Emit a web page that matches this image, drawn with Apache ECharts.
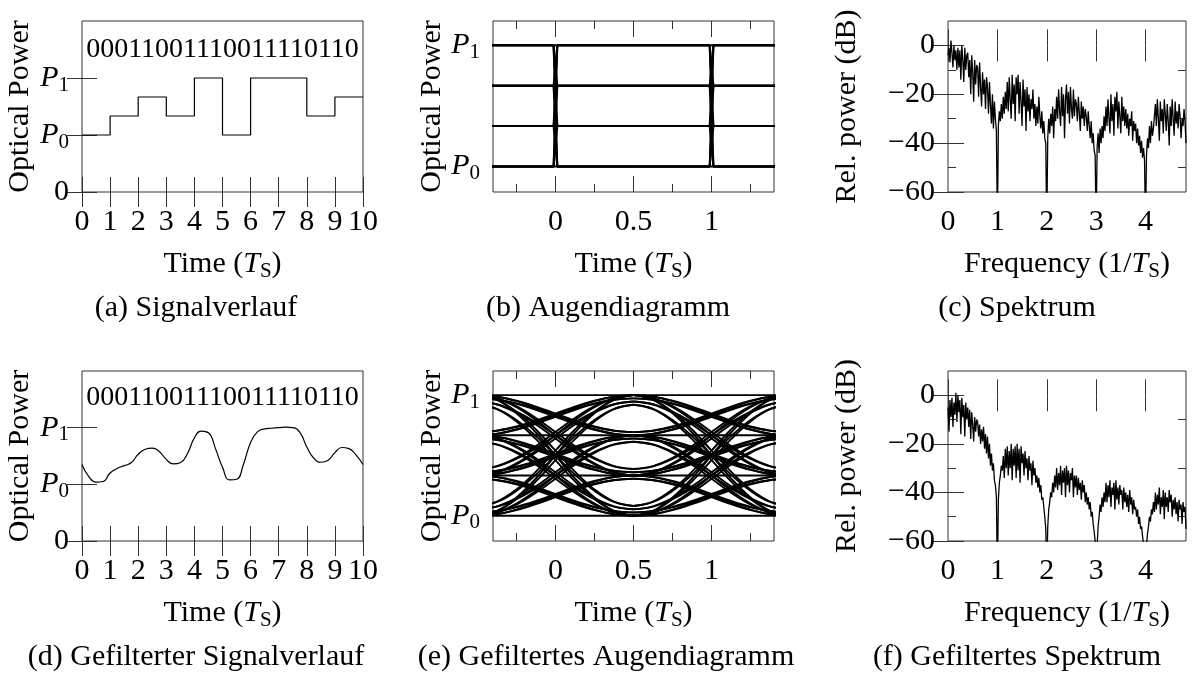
<!DOCTYPE html>
<html><head><meta charset="utf-8">
<script src="https://cdn.jsdelivr.net/npm/echarts@6/dist/echarts.min.js"></script>
<style>html,body{margin:0;padding:0;background:#fff}#c{width:1196px;height:676px}</style>
</head><body><div id="c"></div><script>
// ---------------- data ----------------
const bits = ['0','0','0','1','1','0','0','1','1','1','0','0','1','1','1','1','0','1','1','0'];
const symbolLevels = [1, 4/3, 5/3, 4/3, 2, 1, 2, 2, 4/3, 5/3];
const filtT = [0,0.25,0.5,0.75,1,1.25,1.5,1.75,2,2.25,2.5,2.75,3,3.25,3.5,3.75,4,4.25,4.5,4.75,5,5.25,5.5,5.75,6,6.25,6.5,6.75,7,7.25,7.5,7.75,8,8.25,8.5,8.75,9,9.25,9.5,9.75,10];
const filtP = [1.35,1.13,1.04,1.05,1.2,1.28,1.33,1.38,1.53,1.62,1.64,1.58,1.44,1.36,1.38,1.54,1.82,1.94,1.91,1.63,1.3,1.08,1.09,1.36,1.74,1.93,1.98,1.99,2.0,2.01,2.0,1.92,1.66,1.46,1.39,1.42,1.56,1.65,1.63,1.52,1.35];
const eyeLevels = [1, 4/3, 5/3, 2];
const eyeRise = 0.012;
const eyeShape = [0, 0.04, 0.15, 0.31, 0.5, 0.69, 0.85, 0.96, 1];
const eyeIsi = [0, 0.08];
const freqStep = 0.02;
const specRaw = [
 -4,-1,-7,2,-3,-9,0,-6,-2,-10,
 -1,-9,-2,-14,0,-6,-15,-1,-10,-4,
 -3,-13,-6,-20,-4,-11,-23,-6,-16,-8,
 -9,-21,-7,-17,-25,-11,-20,-14,-26,-13,
 -17,-28,-15,-24,-32,-20,-34,-23,-30,-35,
 -75,
 -33,-27,-31,-24,-30,-21,-28,-19,-26,
 -15,-27,-13,-22,-30,-12,-24,-16,-31,-13,
 -20,-12,-28,-15,-23,-33,-14,-25,-18,-35,
 -17,-27,-20,-31,-22,-26,-18,-30,-24,-33,
 -25,-32,-21,-29,-34,-27,-36,-31,-38,-40,
 -75,
 -38,-30,-36,-28,-33,-25,-38,-26,-31,
 -21,-30,-18,-27,-33,-17,-29,-20,-38,-22,
 -16,-28,-19,-32,-17,-26,-30,-18,-29,-22,
 -24,-31,-21,-28,-35,-23,-30,-25,-33,-26,
 -29,-35,-27,-33,-38,-31,-40,-36,-43,-45,
 -75,
 -42,-36,-44,-34,-40,-33,-38,-29,-35,
 -25,-33,-22,-30,-36,-20,-31,-24,-37,-21,
 -27,-19,-34,-23,-29,-36,-21,-31,-25,-33,
 -26,-34,-28,-37,-30,-33,-27,-39,-31,-35,
 -32,-40,-34,-41,-37,-44,-39,-46,-42,-47,
 -75,
 -45,-38,-42,-33,-40,-31,-37,-34,-29,
 -24,-33,-22,-30,-39,-23,-31,-26,-36,-22,
 -28,-35,-24,-31,-41,-25,-33,-22,-30,-37,
 -23,-32,-27,-34,-24,-29,-38,-30,-33,-26,
 -31,-40
];
const specFilt = [
 -5,-15,-2,-9,-1,-13,-3,-8,1,-11,
 0,-7,-2,-16,-1,-9,-4,-17,-3,-10,
 -5,-13,-6,-18,-7,-12,-19,-9,-15,-10,
 -11,-17,-12,-20,-14,-19,-13,-22,-16,-24,
 -17,-26,-20,-29,-24,-31,-28,-35,-37,-42,
 -75,
 -43,-36,-33,-29,-31,-25,-34,-22,-30,
 -21,-33,-23,-30,-20,-35,-22,-29,-21,-34,
 -20,-31,-22,-36,-21,-28,-24,-33,-23,-30,
 -26,-35,-25,-31,-28,-37,-27,-33,-30,-36,
 -33,-38,-34,-40,-37,-43,-42,-46,-50,-55,
 -75,
 -54,-47,-44,-40,-42,-36,-40,-33,-38,
 -30,-39,-32,-37,-29,-41,-31,-36,-30,-42,
 -29,-37,-31,-40,-32,-35,-30,-42,-33,-38,
 -33,-41,-34,-39,-36,-43,-35,-40,-37,-44,
 -40,-45,-42,-47,-44,-50,-48,-53,-56,-60,
 -75,
 -62,-54,-50,-45,-48,-42,-46,-40,-44,
 -36,-44,-37,-42,-35,-46,-38,-41,-36,-47,
 -35,-43,-38,-45,-37,-41,-39,-47,-38,-44,
 -40,-46,-41,-48,-39,-45,-42,-49,-43,-47,
 -46,-50,-47,-53,-50,-55,-54,-58,-61,-63,
 -75,
 -62,-57,-54,-50,-52,-47,-49,-44,-48,
 -40,-47,-41,-45,-38,-49,-42,-46,-39,-51,
 -40,-46,-42,-48,-39,-44,-41,-50,-43,-47,
 -42,-49,-44,-52,-43,-47,-45,-53,-44,-48,
 -46,-55
];
// tick values / labels
const sigXTicks = [0,1,2,3,4,5,6,7,8,9,10];
const sigYTicks = [0,1,2];
const sigYLabels = ['0','P0','P1'];
const eyeXMajor = [0,0.5,1];
const eyeXMinor = [-0.25,0.25,0.75,1.25];
const eyeYTicks = [1,2];
const eyeYLabels = ['P0','P1'];
const specXTicks = [0,1,2,3,4];
const specYMajor = [-60,-40,-20,0];
const specYMinor = [-50,-30,-10];
const captions = ['(a) Signalverlauf','(b) Augendiagramm','(c) Spektrum','(d) Gefilterter Signalverlauf','(e) Gefiltertes Augendiagramm','(f) Gefiltertes Spektrum'];

// ---------------- style / layout ----------------
const FONT = 'Liberation Serif';
const TXT = '#000';
const FRAME = '#333';
const FS = 30;
const RICH = {
  i: {fontFamily: FONT, fontSize: FS, fontStyle: 'italic', lineHeight: 35, color: TXT},
  r: {fontFamily: FONT, fontSize: FS, lineHeight: 35, color: TXT},
  s: {fontFamily: FONT, fontSize: 21, lineHeight: 22, verticalAlign: 'bottom', color: TXT}
};
function fmtLabel(s) {
  const m = /^([A-Z])(\d)$/.exec(s);
  return m ? '{i|' + m[1] + '}{s|' + m[2] + '}' : '{r|' + s + '}';
}
const timeName = '{r|Time (}{i|T}{s|S}{r|)}';
const freqName = '{r|Frequency (1/}{i|T}{s|S}{r|)}';

const cols = [{left: 82, width: 281}, {left: 493, width: 281}, {left: 948, width: 238}];
const rows = [{top: 21, height: 171}, {top: 371, height: 170}];
const grids = [];
for (let r = 0; r < 2; r++) for (let c = 0; c < 3; c++) {
  grids.push({left: cols[c].left, width: cols[c].width, top: rows[r].top, height: rows[r].height,
    show: true, borderColor: FRAME, borderWidth: 1, backgroundColor: 'rgba(0,0,0,0)', containLabel: false});
}

const xAxes = [], yAxes = [];
function mkAxis(grid, pos, min, max, ticks, len, labelVals, labelTexts, extra) {
  const ax = {
    type: 'value', gridIndex: grid, position: pos, min: min, max: max,
    axisLine: {show: false}, splitLine: {show: false},
    axisTick: {show: true, inside: true, length: len, customValues: ticks, lineStyle: {color: FRAME, width: 1}},
    axisLabel: {show: false}
  };
  if (labelVals) {
    ax.axisLabel = {show: true, customValues: labelVals, margin: 13, color: TXT, fontFamily: FONT, fontSize: FS,
      rich: RICH, formatter: function (v) { const k = labelVals.indexOf(v); return fmtLabel(labelTexts[k]); }};
  }
  return Object.assign(ax, extra || {});
}
const nameX = (txt) => ({name: txt, nameLocation: 'middle', nameGap: 55, nameTextStyle: {rich: RICH, fontFamily: FONT, fontSize: FS, color: TXT}});
const nameY = (txt, gap) => ({name: txt, nameLocation: 'middle', nameRotate: 90, nameGap: gap, nameTextStyle: {rich: RICH, fontFamily: FONT, fontSize: FS, color: TXT}});

const ax = []; // per panel: {x, y}
for (let p = 0; p < 6; p++) {
  const kind = p % 3; // 0 signal, 1 eye, 2 spectrum
  let xi, yi;
  if (kind === 0) {
    xi = xAxes.push(mkAxis(p, 'bottom', 0, 10, sigXTicks, 15, sigXTicks, sigXTicks.map(String), nameX(timeName))) - 1;
    xAxes.push(mkAxis(p, 'top', 0, 10, sigXTicks, 15));
    yi = yAxes.push(mkAxis(p, 'left', 0, 3, sigYTicks, 15, sigYTicks, sigYLabels, nameY('{r|Optical Power}', 44))) - 1;
    yAxes.push(mkAxis(p, 'right', 0, 3, sigYTicks, 15));
  } else if (kind === 1) {
    xi = xAxes.push(mkAxis(p, 'bottom', -0.4, 1.4, eyeXMajor, 16, eyeXMajor, ['0','0.5','1'], nameX(timeName))) - 1;
    xAxes.push(mkAxis(p, 'top', -0.4, 1.4, eyeXMajor, 16));
    xAxes.push(mkAxis(p, 'bottom', -0.4, 1.4, eyeXMinor, 8));
    xAxes.push(mkAxis(p, 'top', -0.4, 1.4, eyeXMinor, 8));
    yi = yAxes.push(mkAxis(p, 'left', 0.79, 2.2, eyeYTicks, 15, eyeYTicks, eyeYLabels, nameY('{r|Optical Power}', 43))) - 1;
    yAxes.push(mkAxis(p, 'right', 0.79, 2.2, eyeYTicks, 15));
  } else {
    xi = xAxes.push(mkAxis(p, 'bottom', 0, 4.82, specXTicks, 16, specXTicks, specXTicks.map(String), nameX(freqName))) - 1;
    xAxes.push(mkAxis(p, 'top', 0, 4.82, specXTicks, 16));
    yi = yAxes.push(mkAxis(p, 'left', -60, 10, specYMajor, 16, specYMajor, specYMajor.map(v => v < 0 ? '\u2212' + (-v) : String(v)), nameY('{r|Rel. power (dB)}', 83))) - 1;
    yAxes.push(mkAxis(p, 'right', -60, 10, specYMajor, 16));
    yAxes.push(mkAxis(p, 'left', -60, 10, specYMinor, 8));
    yAxes.push(mkAxis(p, 'right', -60, 10, specYMinor, 8));
  }
  ax.push({x: xi, y: yi});
}

const series = [];
const baseLine = (p, data, w, extra) => Object.assign({
  type: 'line', xAxisIndex: ax[p].x, yAxisIndex: ax[p].y, data: data, showSymbol: false, symbol: 'none',
  lineStyle: {color: '#000', width: w}, silent: true, animation: false
}, extra || {});

// (a) / (d) signals
const stepData = symbolLevels.map((v, i) => [i, v]).concat([[symbolLevels.length, symbolLevels[symbolLevels.length - 1]]]);
series.push(baseLine(0, stepData, 1.2, {step: 'end'}));
series.push(baseLine(3, filtT.map((t, i) => [t, filtP[i]]), 1.2, {smooth: 0.5}));

// (b) unfiltered eye
for (const w of [0, 1]) for (const a of eyeLevels) for (const b of eyeLevels) {
  series.push(baseLine(1, [[w - 0.5, a], [w - eyeRise, a], [w + eyeRise, b], [w + 0.5, b]], 2));
}
// (e) filtered eye
for (const w of [0, 1]) for (const a of eyeLevels) for (const b of eyeLevels) {
  const combos = a === b ? [[0, 0]] : eyeIsi.flatMap(sa => eyeIsi.map(sb => [sa, sb]));
  for (const [sa, sb] of combos) {
    const y0 = a + sa * (b - a), y1 = b + sb * (a - b);
    const data = eyeShape.map((f, k) => [w - 0.5 + k / (eyeShape.length - 1), y0 + (y1 - y0) * f]);
    series.push(baseLine(4, data, 1.9, {smooth: 0.4}));
  }
}
// (c) / (f) spectra
series.push(baseLine(2, specRaw.map((v, i) => [i * freqStep, v]), 1.3));
series.push(baseLine(5, specFilt.map((v, i) => [i * freqStep, v]), 1.3));

// texts
const capPos = [[196, 308], [608, 308], [1017, 308], [196, 657], [606, 657], [1017, 657]];
const graphic = captions.map((t, k) => ({type: 'text', x: capPos[k][0], y: capPos[k][1],
  style: {text: t, fontFamily: FONT, fontSize: FS, fill: TXT, align: 'center', verticalAlign: 'middle', textAlign: 'center', textVerticalAlign: 'middle'}}));
for (const [x, y] of [[222.5, 50], [222.5, 398]]) {
  graphic.push({type: 'text', x: x, y: y, style: {text: bits.join(''), fontFamily: FONT, fontSize: 28, fill: TXT,
    align: 'center', verticalAlign: 'middle', textAlign: 'center', textVerticalAlign: 'middle'}});
}

const chart = echarts.init(document.getElementById('c'), null, {renderer: 'canvas'});
chart.setOption({animation: false, backgroundColor: '#fff', grid: grids, xAxis: xAxes, yAxis: yAxes, series: series, graphic: graphic});
</script></body></html>
